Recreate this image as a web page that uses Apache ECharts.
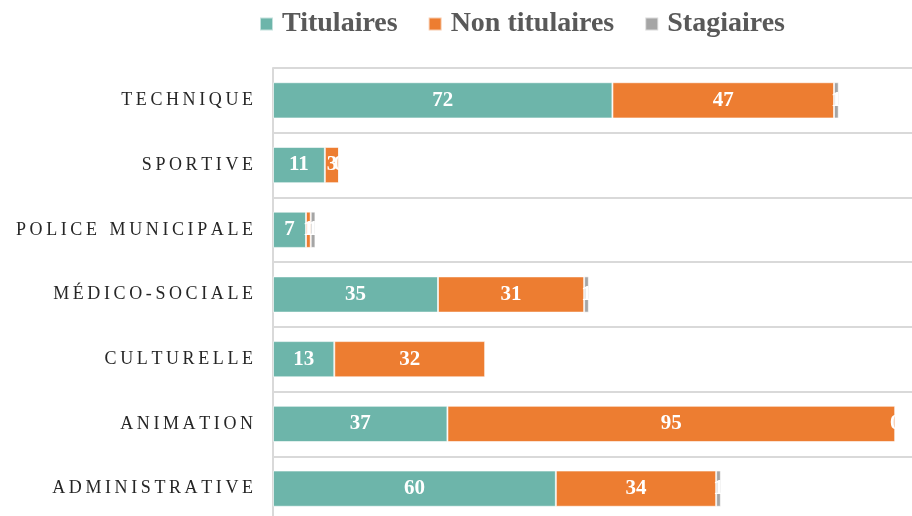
<!DOCTYPE html>
<html>
<head>
<meta charset="utf-8">
<script src="https://cdn.jsdelivr.net/npm/echarts@6/dist/echarts.min.js"></script>
<style>
  html, body { margin: 0; padding: 0; background: #fff; }
  #main { width: 912px; height: 516px; }
</style>
</head>
<body>
<div id="main"></div>
<script>
// filières, de haut en bas
var categories = ['TECHNIQUE', 'SPORTIVE', 'POLICE MUNICIPALE', 'MÉDICO-SOCIALE', 'CULTURELLE', 'ANIMATION', 'ADMINISTRATIVE'];
var titulaires = [72, 11, 7, 35, 13, 37, 60];
var nonTitulaires = [47, 3, 1, 31, 32, 95, 34];
var stagiaires = [1, 0, 1, 1, null, 0, 1];

var serif = '"Liberation Serif", "DejaVu Serif", serif';

// espacement des lettres façon Excel
function spaced(s) {
    return s.split(' ').map(function (w) {
        return w.split('').join('\u2009');
    }).join('\u2009\u2002');
}

var chart = echarts.init(document.getElementById('main'));

var labelStyle = {
    show: true,
    position: 'inside',
    color: '#fff',
    fontFamily: serif,
    fontWeight: 'bold',
    fontSize: 21
};

function serie(name, data, color) {
    return {
        name: name,
        type: 'bar',
        stack: 'total',
        data: data,
        barWidth: '56%',
        itemStyle: {
            color: color,
            borderColor: 'rgba(255,255,255,0.6)',
            borderWidth: 1
        },
        label: labelStyle
    };
}

chart.setOption({
    animation: false,
    legend: {
        top: 5,
        left: 254,
        icon: 'rect',
        itemWidth: 13,
        itemHeight: 13,
        itemGap: 30,
        textStyle: {
            fontFamily: serif,
            fontWeight: 'bold',
            fontSize: 28,
            color: '#595959',
            padding: [0, 0, 0, 4]
        },
        data: ['Titulaires', 'Non titulaires', 'Stagiaires']
    },
    grid: {
        left: 273,
        top: 68,
        width: 660,
        height: 453,
        outerBoundsMode: 'none',
        containLabel: false
    },
    xAxis: {
        type: 'value',
        min: 0,
        max: 140,
        show: false
    },
    yAxis: {
        type: 'category',
        inverse: true,
        data: categories,
        axisLine: { lineStyle: { color: '#d9d9d9', width: 2 } },
        axisTick: { show: false },
        splitLine: { show: true, lineStyle: { color: '#d9d9d9', width: 2 } },
        axisLabel: {
            margin: 20,
            fontFamily: serif,
            fontSize: 18,
            color: '#262626',
            formatter: spaced
        }
    },
    series: [
        serie('Titulaires', titulaires, '#6db5aa'),
        serie('Non titulaires', nonTitulaires, '#ed7d31'),
        serie('Stagiaires', stagiaires, '#a5a5a5')
    ]
});
</script>
</body>
</html>
